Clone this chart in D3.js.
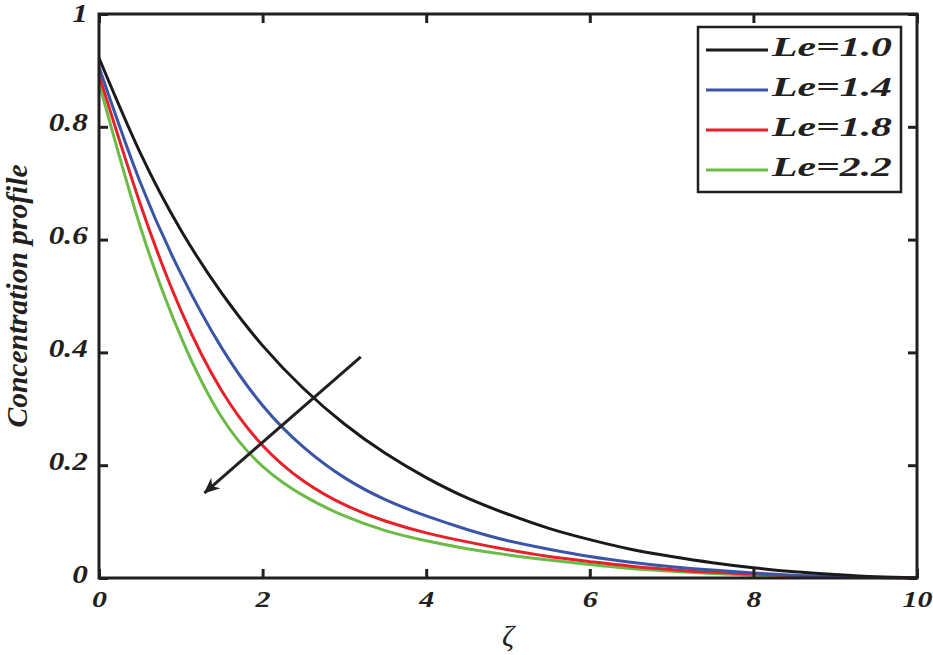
<!DOCTYPE html>
<meta charset="utf-8">
<style>
body { margin: 0; background: #fff; }
svg { display: block; }
.tick text { font-family: "Liberation Serif", "Times New Roman", serif; font-weight: bold; font-style: italic; fill: #231f20; }
</style>
<body>
<script src="https://cdn.jsdelivr.net/npm/d3@7"></script>
<script>
'use strict';

// values, every 0.5 in zeta
const zeta = [0, 0.5, 1, 1.5, 2, 2.5, 3, 3.5, 4, 4.5, 5, 5.5, 6, 6.5, 7, 7.5, 8, 8.5, 9, 9.5, 10];
const le10 = [0.922, 0.755, 0.617, 0.505, 0.412, 0.336, 0.273, 0.221, 0.178, 0.142, 0.113,
              0.088, 0.068, 0.051, 0.038, 0.027, 0.018, 0.011, 0.006, 0.002, 0];
const le14 = [0.906, 0.703, 0.540, 0.408, 0.306, 0.232, 0.178, 0.139, 0.110, 0.086, 0.066,
              0.051, 0.038, 0.028, 0.020, 0.014, 0.009, 0.005, 0.003, 0.001, 0];
const le18 = [0.892, 0.665, 0.475, 0.332, 0.235, 0.172, 0.130, 0.101, 0.080, 0.064, 0.050,
              0.038, 0.029, 0.021, 0.015, 0.010, 0.007, 0.004, 0.002, 0.001, 0];
const le22 = [0.878, 0.625, 0.428, 0.285, 0.198, 0.146, 0.110, 0.084, 0.066, 0.052, 0.041,
              0.032, 0.024, 0.017, 0.012, 0.008, 0.005, 0.003, 0.002, 0.001, 0];
const seriesNames = ["Le=1.0", "Le=1.4", "Le=1.8", "Le=2.2"];
const seriesColors = ["#1a1a1a", "#3a55a5", "#e8202a", "#6cbb47"];
const xTicks = [0, 2, 4, 6, 8, 10];
const xTickLabels = ["0", "2", "4", "6", "8", "10"];
const yTicks = [0, 0.2, 0.4, 0.6, 0.8, 1];
const yTickLabels = ["0", "0.2", "0.4", "0.6", "0.8", "1"];
const arrowFrom = [3.2, 0.392], arrowTo = [1.29, 0.151];

const width = 933, height = 655;
const margin = {top: 14, right: 16, bottom: 77, left: 99};
const x0 = margin.left, x1 = width - margin.right,
      y0 = height - margin.bottom, y1 = margin.top;
const ink = "#231f20";

const x = d3.scaleLinear().domain([0, 10]).range([x0, x1]);
const y = d3.scaleLinear().domain([0, 1]).range([y0, y1]);

const svg = d3.select("body").append("svg")
    .attr("width", width)
    .attr("height", height);

// curves
const series = [le10, le14, le18, le22].map((vals, i) => ({
  name: seriesNames[i], color: seriesColors[i],
  pts: zeta.map((z, j) => [z, vals[j]])
}));

const line = d3.line()
    .x(d => x(d[0]))
    .y(d => y(d[1]))
    .curve(d3.curveNatural);

svg.append("g").selectAll("path")
  .data(series.slice().reverse())
  .join("path")
    .attr("fill", "none")
    .attr("stroke", d => d.color)
    .attr("stroke-width", 3)
    .attr("d", d => line(d.pts));

// arrow
svg.append("defs").append("marker")
    .attr("id", "head")
    .attr("viewBox", "-16 -8 18 16")
    .attr("markerWidth", 18).attr("markerHeight", 16)
    .attr("refX", 0).attr("refY", 0)
    .attr("markerUnits", "userSpaceOnUse")
    .attr("orient", "auto")
  .append("path")
    .attr("d", "M1,0 L-15,-7 L-10,0 L-15,7 Z")
    .attr("fill", ink);

svg.append("line")
    .attr("x1", x(arrowFrom[0])).attr("y1", y(arrowFrom[1]))
    .attr("x2", x(arrowTo[0])).attr("y2", y(arrowTo[1]))
    .attr("stroke", ink)
    .attr("stroke-width", 3)
    .attr("marker-end", "url(#head)");

// axes, ticks inward on all four sides
const tk = 9;
const gx = svg.append("g").attr("transform", `translate(0,${y0})`)
  .call(d3.axisBottom(x).tickValues(xTicks).tickFormat((d, i) => xTickLabels[i])
    .tickSizeInner(-tk).tickSizeOuter(0).tickPadding(29));
const gy = svg.append("g").attr("transform", `translate(${x0},0)`)
  .call(d3.axisLeft(y).tickValues(yTicks).tickFormat((d, i) => yTickLabels[i])
    .tickSizeInner(-tk).tickSizeOuter(0).tickPadding(10));
svg.append("g").attr("transform", `translate(0,${y1})`)
  .call(d3.axisTop(x).tickValues(xTicks).tickFormat("").tickSizeInner(-tk).tickSizeOuter(0));
svg.append("g").attr("transform", `translate(${x1},0)`)
  .call(d3.axisRight(y).tickValues(yTicks).tickFormat("").tickSizeInner(-tk).tickSizeOuter(0));

svg.selectAll(".domain").remove();
svg.selectAll(".tick line").attr("stroke", ink).attr("stroke-width", 3);

gx.selectAll(".tick text")
    .attr("font-size", 24)
    .attr("dy", 0)
    .attr("transform", "scale(1.25,1)");
gy.selectAll(".tick text")
    .attr("font-size", 25)
    .attr("dy", d => d === 1 ? "0.3em" : "0.16em")
    .attr("x", -9)
    .attr("transform", "scale(1.25,1)");

// frame
svg.append("rect")
    .attr("x", x0).attr("y", y1)
    .attr("width", x1 - x0).attr("height", y0 - y1)
    .attr("fill", "none")
    .attr("stroke", ink)
    .attr("stroke-width", 3);

// axis titles
svg.append("text")
    .attr("transform", `translate(${x(5)},646)`)
    .attr("text-anchor", "middle")
    .attr("font-family", "Liberation Serif, serif")
    .attr("font-style", "italic")
    .attr("font-size", 30)
    .attr("fill", ink)
    .text("ζ");

svg.append("text")
    .attr("transform", `translate(27,${(y0 + y1) / 2}) rotate(-90)`)
    .attr("text-anchor", "middle")
    .attr("font-family", "Liberation Serif, serif")
    .attr("font-style", "italic")
    .attr("font-weight", "bold")
    .attr("font-size", 29)
    .attr("textLength", 263)
    .attr("lengthAdjust", "spacingAndGlyphs")
    .attr("fill", ink)
    .text("Concentration profile");

// legend
const lg = svg.append("g");
lg.append("rect")
    .attr("x", 698).attr("y", 27)
    .attr("width", 203).attr("height", 165)
    .attr("fill", "#fff")
    .attr("stroke", ink)
    .attr("stroke-width", 2.5);

const row = lg.selectAll("g.row")
  .data(series)
  .join("g")
    .attr("class", "row")
    .attr("transform", (d, i) => `translate(0,${50 + i * 40})`);
row.append("line")
    .attr("x1", 706).attr("x2", 768)
    .attr("stroke", d => d.color)
    .attr("stroke-width", 3);
row.append("text")
    .attr("x", 772).attr("y", 6)
    .attr("font-family", "Liberation Serif, serif")
    .attr("font-style", "italic")
    .attr("font-weight", "bold")
    .attr("font-size", 28)
    .attr("textLength", 120)
    .attr("lengthAdjust", "spacingAndGlyphs")
    .attr("fill", ink)
    .text(d => d.name);
</script>
</body>
